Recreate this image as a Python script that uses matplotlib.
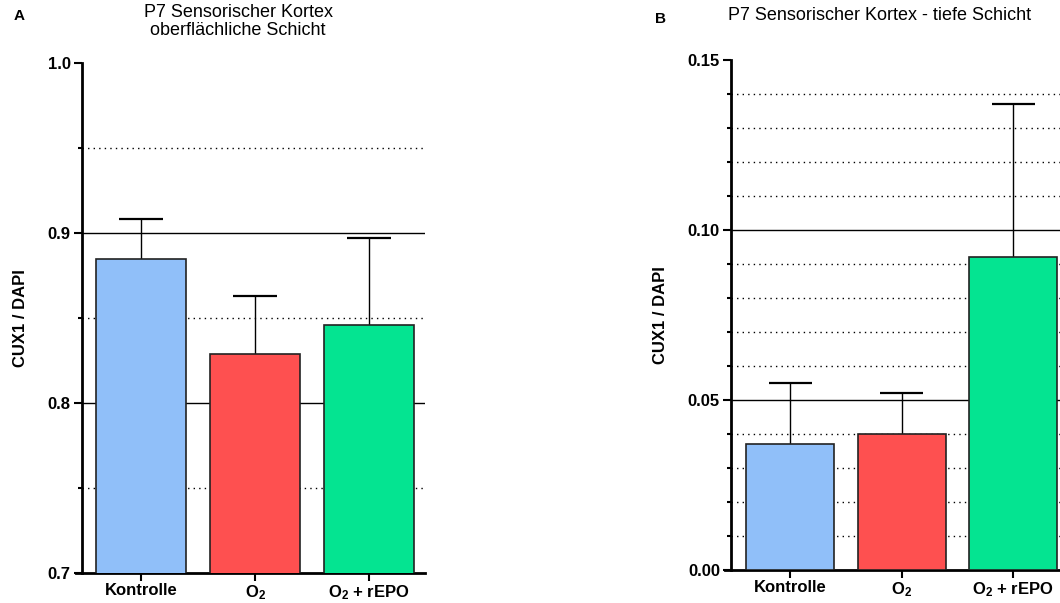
import matplotlib
matplotlib.use("Agg")
import matplotlib.pyplot as plt

plt.rcParams["font.family"] = ["Liberation Sans", "DejaVu Sans"]
plt.rcParams["mathtext.fontset"] = "custom"
plt.rcParams["mathtext.rm"] = "Liberation Sans:bold"
plt.rcParams["mathtext.bf"] = "Liberation Sans:bold"
plt.rcParams["mathtext.default"] = "bf"

groups = ["Kontrolle", "$O_2$", "$O_2$ + rEPO"]
colors = ["#90bff9", "#fe5050", "#04e491"]

# panel A: superficial layer
mean_a = [0.885, 0.829, 0.846]
sem_a = [0.023, 0.034, 0.051]

# panel B: deep layer
mean_b = [0.037, 0.040, 0.092]
sem_b = [0.018, 0.012, 0.045]

fig = plt.figure(figsize=(10.6, 6.03), dpi=100)
axA = fig.add_axes([76 / 1060, 1 - 573 / 603, (425 - 76) / 1060, (573 - 63) / 603])
axB = fig.add_axes([725 / 1060, 1 - 570 / 603, (1069 - 725) / 1060, (570 - 60) / 603])


def draw_panel(ax, means, sems, ylim, majors, solid, dotted, fmt, xl, spine_x):
    x = list(range(len(means)))
    tops = [m + s for m, s in zip(means, sems)]
    ax.set_xlim(*xl)
    ax.set_ylim(*ylim)
    ax.hlines(solid, spine_x, xl[1], color="black", linewidth=1.0, zorder=1)
    ax.hlines(dotted, spine_x, xl[1], color="black", linewidth=1.0,
              linestyles=(0, (1, 3)), zorder=1)
    ax.bar(x, means, width=0.79, color=colors, edgecolor="#222222",
           linewidth=1.2, zorder=3)
    # upper error bars only
    ax.vlines(x, means, tops, color="black", linewidth=1.0, zorder=2)
    ax.hlines(tops, [i - 0.193 for i in x], [i + 0.193 for i in x],
              color="black", linewidth=1.6, zorder=2)
    for s in ["top", "right"]:
        ax.spines[s].set_visible(False)
    ax.spines["left"].set_position(("data", spine_x))
    ax.spines["left"].set_linewidth(2)
    ax.spines["bottom"].set_linewidth(2)
    ax.set_yticks(majors)
    ax.set_yticklabels([fmt.format(v) for v in majors])
    ax.set_yticks(solid + dotted, minor=True)
    ax.tick_params(axis="y", which="major", length=6, width=1.5, labelsize=12, pad=2)
    ax.tick_params(axis="y", which="minor", length=3, width=1.5)
    ax.set_xticks(x)
    ax.set_xticklabels(groups, fontsize=12, fontweight="bold")
    ax.tick_params(axis="x", length=6, width=1.5, pad=1.5)
    for lab in ax.get_yticklabels():
        lab.set_fontweight("bold")
    ax.set_ylabel("CUX1 / DAPI", fontsize=12, fontweight="bold", labelpad=14)


draw_panel(axA, mean_a, sem_a, (0.7, 1.0), [0.7, 0.8, 0.9, 1.0],
           [0.8, 0.9], [0.75, 0.85, 0.95], "{:.1f}", (-0.570, 2.49), -0.518)
draw_panel(axB, mean_b, sem_b, (0.0, 0.15), [0.0, 0.05, 0.10, 0.15],
           [0.05, 0.10],
           [0.01, 0.02, 0.03, 0.04, 0.06, 0.07, 0.08, 0.09, 0.11, 0.12, 0.13, 0.14],
           "{:.2f}", (-0.584, 2.5), -0.53)

fig.text(238 / 1060, 1 - 4 / 603, "P7 Sensorischer Kortex\noberflächliche Schicht",
         ha="center", va="top", fontsize=13, linespacing=1.05)
fig.text(880 / 1060, 1 - 7 / 603, "P7 Sensorischer Kortex - tiefe Schicht",
         ha="center", va="top", fontsize=13)
fig.text(14 / 1060, 1 - 9 / 603, "A", ha="left", va="top", fontsize=11, fontweight="bold")
fig.text(655 / 1060, 1 - 12 / 603, "B", ha="left", va="top", fontsize=11, fontweight="bold")

fig.savefig("out.png", dpi=100)
